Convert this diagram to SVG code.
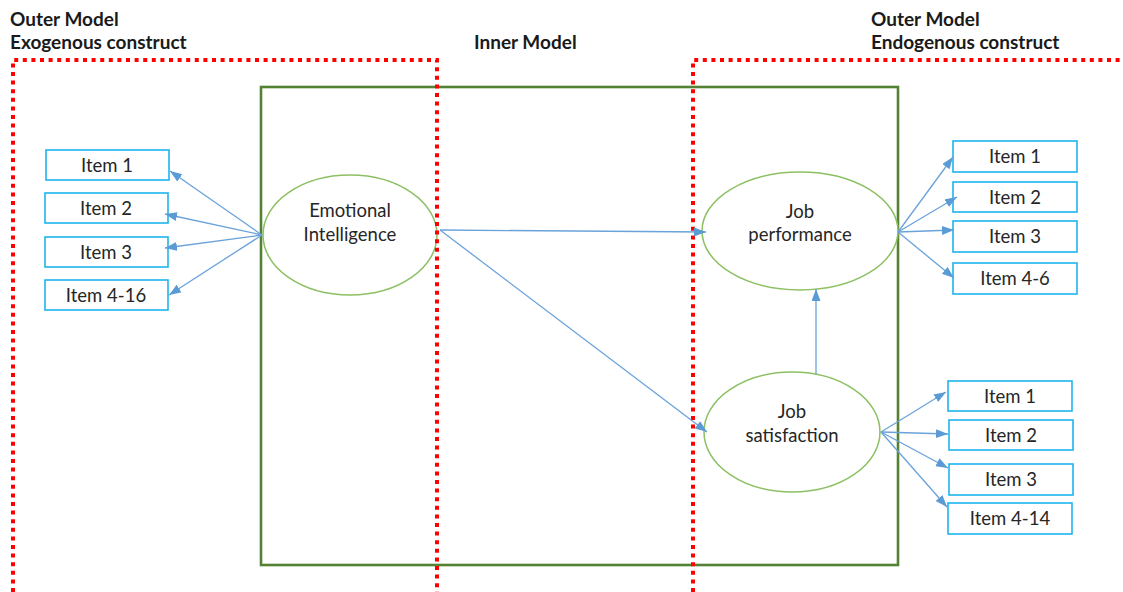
<svg xmlns="http://www.w3.org/2000/svg" width="1123" height="592" viewBox="0 0 1123 592">
  <style>
    .hdr { font-family: Lato, "Liberation Sans", sans-serif; font-weight: bold; font-size: 19px; fill: #1a1a1a; }
    .lbl { font-family: Lato, "Liberation Sans", sans-serif; font-size: 18.5px; fill: #262626; text-anchor: middle; }
    .item rect { fill: #ffffff; stroke: #1fb4ef; stroke-width: 1.6; }
    .construct ellipse { fill: #ffffff; stroke: #8cc063; stroke-width: 1.5; }
    .frame { fill: none; stroke: #ff0000; stroke-width: 4; stroke-dasharray: 4 4.6; }
    .link { stroke: #6aa2da; stroke-width: 1.3; fill: none; marker-end: url(#tip); }
  </style>
  <defs>
    <marker id="tip" markerUnits="userSpaceOnUse" markerWidth="13" markerHeight="10" refX="12" refY="4.5" orient="auto">
      <path d="M0,0 L12,4.5 L0,9 z" fill="#5b9bd5"/>
    </marker>
  </defs>
  <rect width="1123" height="592" fill="#ffffff"/>

  <!-- headings -->
  <text class="hdr" x="10" y="26">Outer Model</text>
  <text class="hdr" x="10" y="49">Exogenous construct</text>
  <text class="hdr" x="474" y="49">Inner Model</text>
  <text class="hdr" x="871" y="26">Outer Model</text>
  <text class="hdr" x="871" y="49">Endogenous construct</text>

  <!-- inner model boundary -->
  <rect id="inner-model" x="261" y="87" width="637" height="478" fill="none" stroke="#548235" stroke-width="2.6"/>

  <!-- latent constructs -->
  <g id="emotional-intelligence" class="construct">
    <ellipse cx="350" cy="235" rx="87" ry="60"/>
    <text class="lbl" x="350" y="217">Emotional</text>
    <text class="lbl" x="350" y="241">Intelligence</text>
  </g>
  <g id="job-performance" class="construct">
    <ellipse cx="800" cy="231" rx="98" ry="59"/>
    <text class="lbl" x="800" y="218">Job</text>
    <text class="lbl" x="800" y="241">performance</text>
  </g>
  <g id="job-satisfaction" class="construct">
    <ellipse cx="792" cy="432" rx="88" ry="60"/>
    <text class="lbl" x="792" y="418">Job</text>
    <text class="lbl" x="792" y="442">satisfaction</text>
  </g>

  <!-- outer model boundaries -->
  <g id="outer-frames">
    <polyline class="frame" points="13,592 13,60 437,60 437,592"/>
    <polyline class="frame" points="693,592 693,60 1123,60"/>
  </g>

  <!-- indicators: emotional intelligence -->
  <g id="ei-item-1" class="item"><rect x="46" y="150" width="123" height="30"/><text class="lbl" x="107" y="172">Item 1</text></g>
  <g id="ei-item-2" class="item"><rect x="45" y="193" width="123" height="30"/><text class="lbl" x="106" y="215">Item 2</text></g>
  <g id="ei-item-3" class="item"><rect x="45" y="237" width="123" height="30"/><text class="lbl" x="106" y="259">Item 3</text></g>
  <g id="ei-item-4-16" class="item"><rect x="45" y="280" width="123" height="30"/><text class="lbl" x="106" y="302">Item 4-16</text></g>

  <!-- indicators: job performance -->
  <g id="jp-item-1" class="item"><rect x="953" y="141" width="124" height="31"/><text class="lbl" x="1015" y="163">Item 1</text></g>
  <g id="jp-item-2" class="item"><rect x="953" y="182" width="124" height="30"/><text class="lbl" x="1015" y="204">Item 2</text></g>
  <g id="jp-item-3" class="item"><rect x="953" y="221" width="124" height="31"/><text class="lbl" x="1015" y="243">Item 3</text></g>
  <g id="jp-item-4-6" class="item"><rect x="953" y="263" width="124" height="31"/><text class="lbl" x="1015" y="285">Item 4-6</text></g>

  <!-- indicators: job satisfaction -->
  <g id="js-item-1" class="item"><rect x="948" y="381" width="124" height="30"/><text class="lbl" x="1010" y="403">Item 1</text></g>
  <g id="js-item-2" class="item"><rect x="949" y="420" width="124" height="30"/><text class="lbl" x="1011" y="442">Item 2</text></g>
  <g id="js-item-3" class="item"><rect x="949" y="464" width="124" height="31"/><text class="lbl" x="1011" y="486">Item 3</text></g>
  <g id="js-item-4-14" class="item"><rect x="948" y="503" width="124" height="31"/><text class="lbl" x="1010" y="525">Item 4-14</text></g>

  <!-- paths and loadings -->
  <g id="connectors">
    <line class="link" x1="262" y1="235" x2="170" y2="171"/>
    <line class="link" x1="262" y1="235" x2="165" y2="214"/>
    <line class="link" x1="262" y1="235" x2="165" y2="248"/>
    <line class="link" x1="262" y1="235" x2="169" y2="295"/>

    <line class="link" x1="440" y1="230" x2="706" y2="232"/>
    <line class="link" x1="440" y1="230" x2="707" y2="432"/>
    <line class="link" x1="816" y1="374" x2="816" y2="289"/>

    <line class="link" x1="898" y1="232" x2="953" y2="157"/>
    <line class="link" x1="898" y1="232" x2="957" y2="197"/>
    <line class="link" x1="898" y1="232" x2="954" y2="230"/>
    <line class="link" x1="898" y1="232" x2="954" y2="278"/>

    <line class="link" x1="881" y1="432" x2="946" y2="392"/>
    <line class="link" x1="881" y1="432" x2="948" y2="434"/>
    <line class="link" x1="881" y1="432" x2="948" y2="468"/>
    <line class="link" x1="881" y1="432" x2="947" y2="507"/>
  </g>
</svg>
